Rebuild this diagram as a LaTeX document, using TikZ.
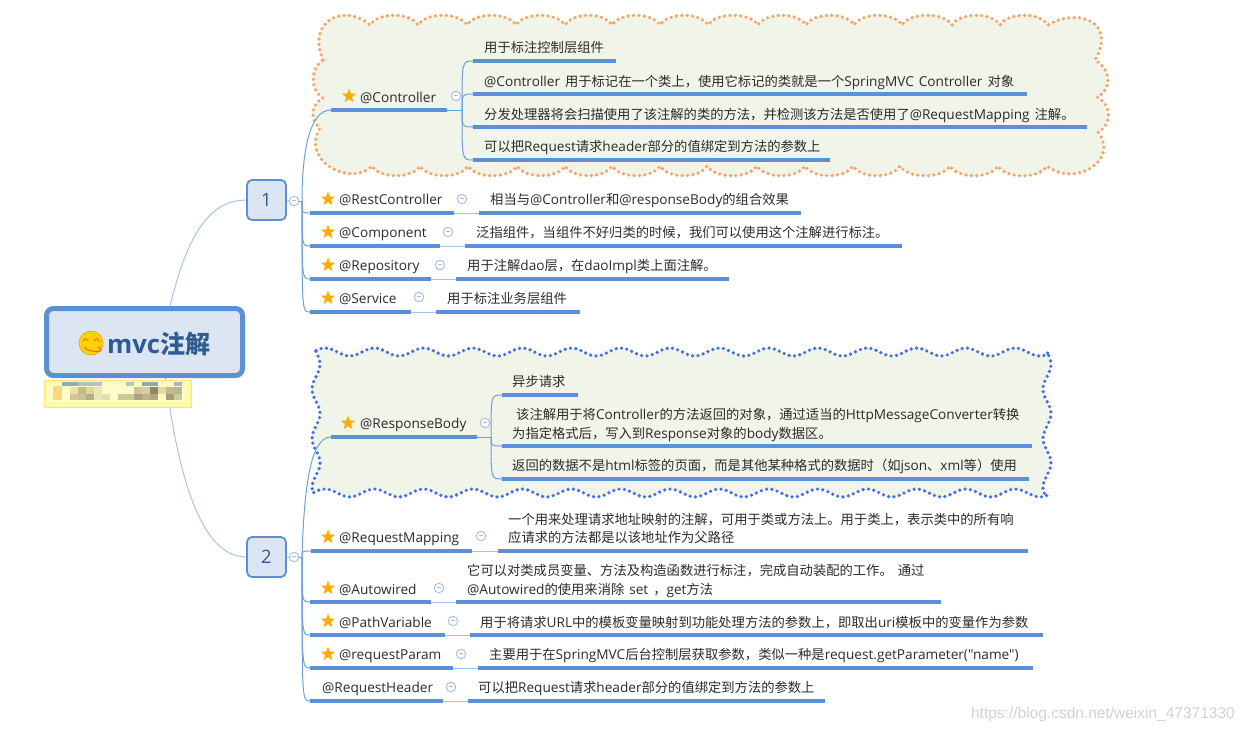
\documentclass[tikz,border=0pt]{standalone}
\usepackage{fontspec}
\usetikzlibrary{shapes.geometric}
\setmainfont[Scale=1.025,WordSpace=1.4]{Open Sans}
\newfontfamily\latf[Scale=1.025,WordSpace=1.4]{Open Sans}
\newfontfamily\cjkf{Noto Sans CJK SC}
\newfontfamily\wmf{Liberation Sans}
\newXeTeXintercharclass\ccjk
\newcount\cc
\newcommand{\setcjkrange}[2]{\cc=#1 \loop \XeTeXcharclass\cc=\ccjk \ifnum\cc<#2 \advance\cc by 1 \repeat}
\setcjkrange{"3000}{"30FF}
\setcjkrange{"4E00}{"9FFF}
\setcjkrange{"FF00}{"FFEF}
\XeTeXinterchartoks 0 \ccjk={\cjkf}
\XeTeXinterchartoks 4095 \ccjk={\cjkf}
\XeTeXinterchartoks \ccjk 0={\latf}
\XeTeXinterchartoks \ccjk 4095={\latf}
\XeTeXinterchartoks 4095 0={\latf}
\XeTeXinterchartokenstate=1
\definecolor{barc}{HTML}{5B8FD6}
\definecolor{linkc}{HTML}{6C9FDC}
\definecolor{lightc}{HTML}{A5C4EA}
\definecolor{boxf}{HTML}{DCE6F2}
\definecolor{cloudf}{HTML}{F1F4E9}
\definecolor{orangec}{HTML}{F9A25E}
\definecolor{bluec}{HTML}{3F6FE8}
\definecolor{starc}{HTML}{FFAB00}
\definecolor{minc}{HTML}{A3BDE3}
\definecolor{textc}{HTML}{2B2B2B}
\definecolor{topicc}{HTML}{2F5B92}
\pgfdeclarelayer{cloudlayer}
\pgfdeclarelayer{connlayer}
\pgfsetlayers{cloudlayer,connlayer,main}
\tikzset{
  lbl/.style={anchor=base west,inner sep=0pt,yshift=-5.4pt,text=textc,font=\fontsize{13.3}{16}\selectfont},
  barn/.style={fill=barc,draw=none,inner sep=0pt,minimum height=3.2pt},
  stardot/.style={star,star points=5,star point ratio=2.4,fill=starc,draw=none,inner sep=0pt,minimum size=15pt},
  collapse/.style={circle,draw=minc,fill=white,line width=.9pt,inner sep=0pt,minimum size=9.5pt,text=minc,font=\fontsize{6}{6}\selectfont},
  lnk/.style={draw=linkc,line width=1pt},
  lnklight/.style={draw=lightc,line width=1pt},
  lvlbox/.style={draw=barc,fill=boxf,line width=1.8pt,rounded corners=5pt,minimum width=39pt,minimum height=40pt,inner sep=0pt,text=topicc,font=\fontsize{18}{20}\selectfont},
  cloudo/.style={fill=cloudf,draw=orangec,line width=3.6pt,line cap=round,dash pattern=on 0pt off 5.4pt},
  cloudb/.style={fill=cloudf,draw=bluec,line width=3.6pt,line cap=round,dash pattern=on 0pt off 5.4pt}
}
\newcommand{\bnode}[4]{\pgfmathsetmacro\bw{#3-#2}\pgfmathsetmacro\bx{(#2+#3)/2}\node[barn,minimum width=\bw pt] (#1) at (\bx,#4) {};}
\newcommand{\mnode}[3]{\node[collapse] (#1) at (#2,#3) {\rule[1.7pt]{4.5pt}{.8pt}};}
\begin{document}
\begin{tikzpicture}[x=1pt,y=-1pt]
\useasboundingbox (0,0) rectangle (1244,731);
% clouds
\begin{pgfonlayer}{cloudlayer}
\path[cloudo] (323,60) .. controls (306,20) and (345,3) .. (370,25)
  foreach \x in {418,467,516,565,612,660,708,758,806,854,902,952,1000,1048} { .. controls +(8,-13) and +(-8,-13) .. (\x,25) }
  .. controls (1075,8) and (1118,20) .. (1095,60)
  .. controls (1112,70) and (1112,90) .. (1097,97)
  .. controls (1112,105) and (1112,125) .. (1098,132)
  .. controls (1120,160) and (1075,188) .. (1047,166)
  foreach \x in {998,950,900,853,805,757,707,660,612,565,517,468,420,372} { .. controls +(-8,13) and +(8,13) .. (\x,166) }
  .. controls (350,188) and (300,160) .. (320,128)
  .. controls (310,120) and (310,105) .. (323,98)
  .. controls (310,90) and (310,68) .. (323,60) -- cycle;
\path[cloudb] plot[domain=316:1048,samples=240] (\x,{352-4*cos(7.302*(\x-325))})
  -- plot[domain=352:493,samples=60] ({1047+4*sin(7.3*(\x-352))},\x)
  -- plot[domain=1048:316,samples=240] (\x,{493-4*cos(7.302*(\x-325))})
  -- plot[domain=493:352,samples=60] ({316+4*sin(7.3*(\x-352))},\x) -- cycle;
\end{pgfonlayer}
% central topic
\node[draw=barc,fill=boxf,line width=5pt,rounded corners=7pt,minimum width=196pt,minimum height=67pt,inner sep=0pt] (main) at (144.5,342) {};
\node[anchor=base west,inner sep=0pt,text=topicc,font=\fontsize{25}{30}\bfseries\selectfont] (maintxt) at (107,353) {mvc注解};
\node[circle,fill=yellow!70!orange,draw=orange!85!yellow,line width=.5pt,minimum size=24pt,inner sep=0pt] (smile) at (91,343) {};
\draw[orange!80!red,line width=1pt] ([shift={(-8,-2)}]smile.center) .. controls +(2,-3) and +(-2,-3) .. +(5,0);
\draw[orange!80!red,line width=1pt] ([shift={(3,-2)}]smile.center) .. controls +(2,-3) and +(-2,-3) .. +(5,0);
\draw[orange!80!red,line width=1pt] ([shift={(-7,4)}]smile.center) .. controls +(3,6) and +(11,6) .. +(14,0);
% note box
\node[draw=yellow!60!orange!50,fill=yellow!35,minimum width=147pt,minimum height=27pt,inner sep=0pt,line width=.6pt] (note) at (117.5,393.5) {};
\fill[yellow!22,rounded corners=7pt] (47,384) rectangle (186,402);
\foreach \xa/\xb/\ya/\yb/\col in {53/62/386/400/FDD77F,
 70/78/387/394/EFE3A8,78/86/387/394/C4BA8A,86/94/387/394/DDD5A6,94/102/387/394/EDE7B5,134/142/387/394/CFC596,142/150/387/394/D8CE9F,150/158/387/394/8F8761,158/166/387/394/E3DAA8,166/174/387/394/C5BC8D,174/182/387/394/BCB68C,
 70/78/394/400/D0C89A,78/86/394/400/C8C195,86/94/394/400/B5AE88,94/102/394/400/E9E6B3,102/110/394/400/E0DFAF,118/126/394/400/CFC89A,126/134/394/400/CDC497,134/142/394/400/ACA27B,142/150/394/400/BDB48A,150/158/394/400/AFA67F,166/174/394/400/A39C7A,174/182/394/400/CFC89A,
 62/78/382/386/8FAAC4,78/102/382/386/B6C2BE,126/134/382/386/B5C5C5,142/158/382/386/8CA6BE,174/182/382/386/A8B8BC}
 {\definecolor{cellc}{HTML}{\col}\fill[cellc] (\xa,\ya) rectangle (\xb,\yb);}
% level boxes
\node[lvlbox] (n1) at (266.5,200) {1};
\node[lvlbox] (n2) at (266.5,557) {2};
\mnode{mn1}{294}{201}
\mnode{mn2}{294}{557}
\coordinate (f1) at (302,201);
\coordinate (f2) at (302,557);
% group 1
\bnode{c}{331}{447}{110}
\node[stardot] (cs) at (349,96) {};
\node[lbl] (ct) at (360,97) {@Controller};
\mnode{cm}{456}{96}
\coordinate (cf) at (462,110);
\bnode{c1}{473}{616}{61}
\node[lbl] (c1t) at (484,47) {用于标注控制层组件};
\bnode{c2}{473}{1027}{94}
\node[lbl] (c2t) at (484,81) {@Controller 用于标记在一个类上，使用它标记的类就是一个SpringMVC Controller 对象};
\bnode{c3}{473}{1087}{127}
\node[lbl] (c3t) at (484,114) {分发处理器将会扫描使用了该注解的类的方法，并检测该方法是否使用了@RequestMapping 注解。};
\bnode{c4}{473}{830}{160}
\node[lbl] (c4t) at (484,146) {可以把Request请求header部分的值绑定到方法的参数上};
\bnode{r}{310}{454}{213}
\node[stardot] (rs) at (328,199) {};
\node[lbl] (rt) at (339,199) {@RestController};
\mnode{rm}{462}{199}
\bnode{r1}{479}{801}{213}
\node[lbl] (r1t) at (490,199) {相当与@Controller和@responseBody的组合效果};
\bnode{k}{310}{440}{246}
\node[stardot] (ks) at (328,232) {};
\node[lbl] (kt) at (339,232) {@Component};
\mnode{km}{448}{232}
\bnode{k1}{465}{902}{246}
\node[lbl] (k1t) at (476,232) {泛指组件，当组件不好归类的时候，我们可以使用这个注解进行标注。};
\bnode{p}{310}{431}{279}
\node[stardot] (ps) at (328,265) {};
\node[lbl] (pt) at (339,265) {@Repository};
\mnode{pm}{440}{265}
\bnode{p1}{456}{729}{279}
\node[lbl] (p1t) at (467,265) {用于注解dao层，在daoImpl类上面注解。};
\bnode{s}{310}{411}{312}
\node[stardot] (ss) at (328,298) {};
\node[lbl] (st) at (339,298) {@Service};
\mnode{sm}{419}{297}
\bnode{s1}{436}{580}{312}
\node[lbl] (s1t) at (447,298) {用于标注业务层组件};
% group 2
\bnode{b}{331}{477}{437}
\node[stardot] (bs) at (348,423) {};
\node[lbl] (bt) at (360,423) {@ResponseBody};
\mnode{bm}{485}{423}
\coordinate (bf) at (491,437);
\bnode{b1}{502}{578}{395}
\node[lbl] (b1t) at (512,381) {异步请求};
\bnode{b2}{502}{1032}{446}
\node[lbl] (b2t) at (516,414) {该注解用于将Controller的方法返回的对象，通过适当的HttpMessageConverter转换};
\node[lbl] (b2u) at (512,433) {为指定格式后，写入到Response对象的body数据区。};
\bnode{b3}{502}{1029}{479}
\node[lbl] (b3t) at (512,465) {返回的数据不是html标签的页面，而是其他某种格式的数据时（如json、xml等）使用};
\bnode{q}{311}{472}{551}
\node[stardot] (qs) at (328,537) {};
\node[lbl] (qt) at (339,537) {@RequestMapping};
\mnode{qm}{481}{536}
\bnode{q1}{498}{1028}{551}
\node[lbl] (q1t) at (508,519) {一个用来处理请求地址映射的注解，可用于类或方法上。用于类上，表示类中的所有响};
\node[lbl] (q1u) at (508,537) {应请求的方法都是以该地址作为父路径};
\bnode{a}{310}{431}{602}
\node[stardot] (as) at (328,588) {};
\node[lbl] (at) at (339,589) {@Autowired};
\mnode{am}{439}{588}
\bnode{a1}{456}{941}{602}
\node[lbl] (a1t) at (467,570) {它可以对类成员变量、方法及构造函数进行标注，完成自动装配的工作。 通过};
\node[lbl] (a1u) at (467,589) {@Autowired的使用来消除 set ，get方法};
\bnode{v}{310}{445}{635}
\node[stardot] (vs) at (328,621) {};
\node[lbl] (vt) at (339,622) {@PathVariable};
\mnode{vm}{453}{621}
\bnode{v1}{470}{1043}{635}
\node[lbl] (v1t) at (480,622) {用于将请求URL中的模板变量映射到功能处理方法的参数上，即取出uri模板中的变量作为参数};
\bnode{g}{310}{453}{668}
\node[stardot] (gs) at (328,654) {};
\node[lbl] (gt) at (339,654) {@requestParam};
\mnode{gm}{461}{654}
\bnode{g1}{478}{1033}{668}
\node[lbl] (g1t) at (489,654) {主要用于在SpringMVC后台控制层获取参数，类似一种是request.getParameter("name")};
\bnode{h}{310}{443}{701}
\node[lbl] (ht) at (322,687) {@RequestHeader};
\mnode{hm}{451}{687}
\bnode{h1}{468}{825}{701}
\node[lbl] (h1t) at (478,687) {可以把Request请求header部分的值绑定到方法的参数上};
\node[anchor=base east,inner sep=0pt,text=black!18] (wm) at (1235,718) {\XeTeXinterchartokenstate=0 \wmf\fontsize{15.5}{18}\selectfont https://blog.csdn.net/weixin\_47371330};
% connectors
\begin{pgfonlayer}{connlayer}
\draw[lnklight] ([xshift=25.5pt]main.north) .. controls (185,245) and (205,200) .. (n1.west);
\draw[lnklight] ([xshift=21pt]main.south) .. controls (180,490) and (205,557) .. (n2.west);
\draw[lnklight] (n1.east) -- (mn1.west);
\draw[lnklight] (n2.east) -- (mn2.west);
\draw[lnk] (mn1.east) -- (f1);
\draw[lnk] (mn2.east) -- (f2);
\draw[lnk] (f1) .. controls (302,150) and (310,110) .. (c.west);
\draw[lnk] (f2) .. controls (304,490) and (310,437) .. (b.west);
\foreach \t in {r,k,p,s} \draw[lnk] (f1) .. controls (f1 |- \t) and (f1 |- \t) .. (\t.west);
\foreach \t in {q,a,v,g,h} \draw[lnk] (f2) .. controls (f2 |- \t) and (f2 |- \t) .. (\t.west);
\draw[lnk] (c.east) -- (cf);
\draw[lnk] (b.east) -- (bf);
\foreach \t in {c1,c2,c3,c4} \draw[lnk] (cf) .. controls (cf |- \t) and (cf |- \t) .. (\t.west);
\foreach \t in {b1,b2,b3} \draw[lnk] (bf) .. controls (bf |- \t) and (bf |- \t) .. (\t.west);
\foreach \u/\w in {r/r1,k/k1,p/p1,s/s1,q/q1,a/a1,v/v1,g/g1,h/h1} \draw[lnklight] (\u.east) -- (\w.west);
\end{pgfonlayer}
\end{tikzpicture}
\end{document}
